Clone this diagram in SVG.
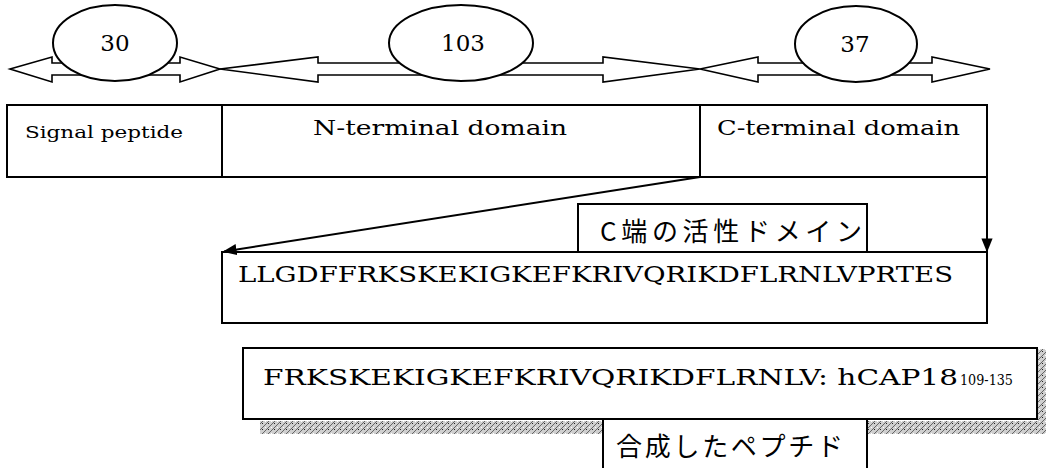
<svg xmlns="http://www.w3.org/2000/svg" width="1046" height="468" viewBox="0 0 1046 468">
<style>
.ln{fill:none;stroke:#000;stroke-width:2}
.bx{fill:#fff;stroke:#000;stroke-width:2}
.ar{fill:#fff;stroke:#000;stroke-width:1.6;stroke-linejoin:miter}
.t{font-family:"DejaVu Serif","Liberation Serif",serif;fill:#000}
.j{font-family:"Noto Sans CJK JP","Noto Sans CJK SC",sans-serif;fill:#000}
</style>
<defs>
<marker id="ah2" viewBox="0 0 10 10" refX="9" refY="5" markerWidth="14" markerHeight="14" orient="auto" markerUnits="userSpaceOnUse">
<path d="M0,1 L10,5 L0,9 z" fill="#000"/>
</marker>
<pattern id="hatch" width="6" height="6" patternUnits="userSpaceOnUse">
<rect width="6" height="6" fill="#cfcfcf"/>
<path d="M0,6 L6,0" stroke="#666" stroke-width="1"/>
<rect x="1" y="1" width="1" height="1" fill="#fff"/>
<rect x="4" y="3" width="1" height="1" fill="#222"/>
</pattern>
</defs>

<g id="span-arrows">
<polygon class="ar" points="10,69 52,57 52,63 180,63 180,57 220,69 180,82 180,75 52,75 52,82"/>
<polygon class="ar" points="220,69 318,57 318,63 603,63 603,57 700,69 603,82 603,75 318,75 318,82"/>
<polygon class="ar" points="700,69 758,57 758,63 932,63 932,57 990,69 932,82 932,75 758,75 758,82"/>
</g>

<g id="len-30">
<ellipse class="bx" cx="115" cy="43" rx="62" ry="38"/>
<text class="t" x="115" y="51" font-size="23" text-anchor="middle">30</text>
</g>
<g id="len-103">
<ellipse class="bx" cx="461" cy="43" rx="72" ry="38"/>
<text class="t" x="463" y="51" font-size="23" text-anchor="middle">103</text>
</g>
<g id="len-37">
<ellipse class="bx" cx="856" cy="44" rx="61" ry="38"/>
<text class="t" x="855" y="52" font-size="23" text-anchor="middle">37</text>
</g>

<g id="signal-peptide">
<rect class="bx" x="7" y="105" width="215" height="72"/>
<text class="t" x="25" y="138" font-size="16" textLength="158" lengthAdjust="spacingAndGlyphs">Signal peptide</text>
</g>
<g id="n-terminal">
<rect class="bx" x="222" y="105" width="478" height="72"/>
<text class="t" x="313" y="135" font-size="21" textLength="254" lengthAdjust="spacingAndGlyphs">N-terminal domain</text>
</g>
<g id="c-terminal">
<rect class="bx" x="700" y="105" width="287" height="72"/>
<text class="t" x="717" y="135" font-size="21" textLength="243" lengthAdjust="spacingAndGlyphs">C-terminal domain</text>
</g>

<g id="c-active-label">
<rect class="bx" x="578" y="204" width="289" height="48"/>
<text class="j" x="600" y="241" font-size="26" textLength="262" lengthAdjust="spacing">C端の活性ドメイン</text>
</g>

<g id="sequence-full">
<rect class="bx" x="222" y="252" width="765" height="71"/>
<text class="t" x="238" y="282" font-size="22" textLength="715" lengthAdjust="spacingAndGlyphs">LLGDFFRKSKEKIGKEFKRIVQRIKDFLRNLVPRTES</text>
</g>

<g id="connectors">
<line class="ln" x1="700" y1="177" x2="224" y2="251.5" marker-end="url(#ah2)"/>
<line class="ln" x1="987" y1="177" x2="987" y2="251" marker-end="url(#ah2)"/>
</g>

<g id="shadow">
<rect x="260" y="421" width="786" height="13" fill="url(#hatch)"/>
<rect x="1038" y="349" width="8" height="85" fill="url(#hatch)"/>
</g>

<g id="sequence-synthetic">
<rect class="bx" x="243" y="348" width="794" height="71"/>
<text class="t" x="263" y="385" font-size="23" textLength="695" lengthAdjust="spacingAndGlyphs">FRKSKEKIGKEFKRIVQRIKDFLRNLV: hCAP18</text>
<text class="t" x="960" y="385" font-size="14" textLength="53" lengthAdjust="spacingAndGlyphs">109-135</text>
</g>

<g id="synthetic-label">
<rect class="bx" x="603" y="419" width="264" height="52"/>
<text class="j" x="616" y="456" font-size="26" textLength="227" lengthAdjust="spacing">合成したペプチド</text>
</g>
</svg>
